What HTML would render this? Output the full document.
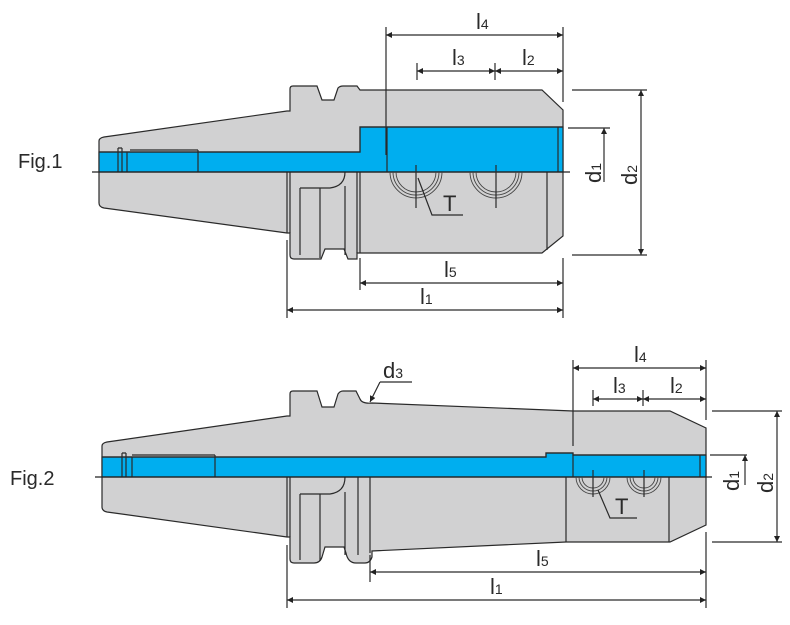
<!DOCTYPE html>
<html><head><meta charset="utf-8"><style>
html,body{margin:0;padding:0;background:#fff}
svg{display:block}
text{font-family:"Liberation Sans",sans-serif;fill:#2a2a2a}
</style></head><body>
<svg width="790" height="625" viewBox="0 0 790 625" xmlns="http://www.w3.org/2000/svg">
<defs>
<marker id="a" viewBox="0 0 10 10" refX="10" refY="5" markerWidth="10" markerHeight="6" orient="auto-start-reverse" markerUnits="userSpaceOnUse"><path d="M0,0 L10,5 L0,10 z" fill="#222"/></marker>
</defs>
<g stroke="#2a2a2a" stroke-width="1.2" fill="none">
<!-- ================= FIG 1 ================= -->
<path fill="#d1d1d2" d="M99,172 L99,141 Q99,138 104,137 L287,111 L290,111 L290,89 Q290,86 293,86 L317,86 L322,100 L334,100 L338,88 Q340,86 343,86 L357,86 L360,90 L542,90 L563,110 L563,236 L542,253 L357,253 L357,259 L348,259 L344,249 L325,249 L321,259 L294,259 Q290,259 290,255 L290,233 L287,233 L104,208 Q99,207 99,203 Z"/>
<path d="M287,172 L287,233 M290,172 L290,233 M300,188 L300,255 M320,188 L320,258 M345,186 L345,255 M357,172 L357,253 M360,172 L360,253 M300,188 L330,188 Q345,186 345,172 M547,172 L547,250"/>
<path fill="#00aeef" d="M99,152 L360,152 L360,127 L563,127 L563,172 L99,172 Z"/>
<path d="M99,152 L360,152 L360,127 L563,127 M118,148 L118,172 M122,148 L122,172 M118,148 L122,148 M127,152 L127,172 M198,150 L198,172 M130,150 L198,150 M387,127 L387,172 M558,127 L558,172"/>
<path stroke="#222" d="M92,172 L570,172"/>
<g stroke="#444" stroke-width="0.9">
<path d="M390,172 A26,26 0 0 0 442,172 M393,172 A23,23 0 0 0 439,172 M396,172 A20,20 0 0 0 436,172"/>
<path d="M470,172 A26,26 0 0 0 522,172 M473,172 A23,23 0 0 0 519,172 M476,172 A20,20 0 0 0 516,172"/>
</g>
<path d="M416,165 L416,208 M496,165 L496,208 M418,178 L432,215 L463,215"/>
<!-- dims fig1 -->
<path d="M386,27 L386,155 M563,27 L563,102 M417,63 L417,80 M495,63 L495,80"/>
<path d="M386,35 L563,35" marker-start="url(#a)" marker-end="url(#a)"/>
<path d="M417,71 L495,71" marker-start="url(#a)" marker-end="url(#a)"/>
<path d="M495,71 L563,71" marker-start="url(#a)" marker-end="url(#a)"/>
<path d="M572,90 L647,90 M572,255 L647,255 M568,128 L610,128"/>
<path d="M641,90 L641,255" marker-start="url(#a)" marker-end="url(#a)"/>
<path d="M604,182 L604,128" marker-end="url(#a)"/>
<path d="M287,240 L287,318 M360,258 L360,290 M563,258 L563,318"/>
<path d="M360,283 L563,283" marker-start="url(#a)" marker-end="url(#a)"/>
<path d="M287,310 L563,310" marker-start="url(#a)" marker-end="url(#a)"/>

<!-- ================= FIG 2 ================= -->
<path fill="#d1d1d2" d="M102,477 L102,446 Q102,443 107,442 L287,416 L290,416 L290,394 Q290,391 293,391 L317,391 L322,407 L334,407 L338,394 Q340,391 343,391 L356,391 L360,399 Q362,404 372,403 L573,411 L670,411 L706,428 L706,525 L670,542 L566,542 L372,551 L372,557 Q370,563 365,563 L356,563 Q348,563 346,553 L344,547 L325,547 L322,557 Q320,563 314,563 L294,563 Q290,563 290,559 L290,537 L287,537 L107,512 Q102,511 102,507 Z"/>
<path d="M287,477 L287,537 M290,477 L290,537 M300,494 L300,560 M320,494 L320,561 M345,492 L345,555 M358,477 L358,555 M370,477 L370,553 M300,494 L330,494 Q345,492 345,477 M566,477 L566,542 M669,477 L669,542"/>
<path fill="#00aeef" d="M102,457 L546,457 L546,453 L573,453 L573,455 L706,455 L706,477 L102,477 Z"/>
<path d="M102,457 L546,457 L546,453 L573,453 L573,455 L706,455 M122,453 L122,477 M126,453 L126,477 M122,453 L126,453 M132,457 L132,477 M215,455 L215,477 M132,455 L215,455 M573,453 L573,477 M700,455 L700,477"/>
<path stroke="#222" d="M95,477 L712,477"/>
<g stroke="#444" stroke-width="0.9">
<path d="M576,477 A17,17 0 0 0 610,477 M579,477 A14,14 0 0 0 607,477 M582,477 A11,11 0 0 0 604,477"/>
<path d="M627,477 A17,17 0 0 0 661,477 M630,477 A14,14 0 0 0 658,477 M633,477 A11,11 0 0 0 655,477"/>
</g>
<path d="M593,470 L593,497 M644,470 L644,497 M598,490 L610,518 L637,518"/>
<!-- d3 leader -->
<path d="M380,382 L412,382 M380,382 L370,402" marker-end="url(#a)"/>
<!-- dims fig2 -->
<path d="M573,360 L573,446 M706,360 L706,420 M593,390 L593,406 M643,390 L643,406"/>
<path d="M573,368 L706,368" marker-start="url(#a)" marker-end="url(#a)"/>
<path d="M593,399 L643,399" marker-start="url(#a)" marker-end="url(#a)"/>
<path d="M643,399 L706,399" marker-start="url(#a)" marker-end="url(#a)"/>
<path d="M712,411 L782,411 M712,542 L782,542 M710,455 L747,455"/>
<path d="M777,411 L777,542" marker-start="url(#a)" marker-end="url(#a)"/>
<path d="M745,485 L745,455" marker-end="url(#a)"/>
<path d="M287,545 L287,608 M370,555 L370,582 M706,532 L706,608"/>
<path d="M370,572 L706,572" marker-start="url(#a)" marker-end="url(#a)"/>
<path d="M287,600 L706,600" marker-start="url(#a)" marker-end="url(#a)"/>
</g>

<!-- labels -->
<text x="18" y="168" font-size="20">Fig.1</text>
<text x="10" y="485" font-size="20">Fig.2</text>
<g font-size="22">
<text x="476" y="29">l<tspan font-size="14">4</tspan></text>
<text x="452" y="65">l<tspan font-size="14">3</tspan></text>
<text x="522" y="65">l<tspan font-size="14">2</tspan></text>
<text x="444" y="277">l<tspan font-size="14">5</tspan></text>
<text x="420" y="304">l<tspan font-size="14">1</tspan></text>
<text x="443" y="211">T</text>
<text transform="translate(601,172) rotate(-90)" x="-11" y="0">d<tspan font-size="14">1</tspan></text>
<text transform="translate(637,172) rotate(-90)" x="-13" y="0">d<tspan font-size="14">2</tspan></text>

<text x="634" y="362">l<tspan font-size="14">4</tspan></text>
<text x="613" y="393">l<tspan font-size="14">3</tspan></text>
<text x="670" y="393">l<tspan font-size="14">2</tspan></text>
<text x="536" y="566">l<tspan font-size="14">5</tspan></text>
<text x="490" y="594">l<tspan font-size="14">1</tspan></text>
<text x="615" y="514">T</text>
<text x="383" y="378">d<tspan font-size="14">3</tspan></text>
<text transform="translate(739,480) rotate(-90)" x="-11" y="0">d<tspan font-size="14">1</tspan></text>
<text transform="translate(773,480) rotate(-90)" x="-13" y="0">d<tspan font-size="14">2</tspan></text>
</g>
</svg>
</body></html>
